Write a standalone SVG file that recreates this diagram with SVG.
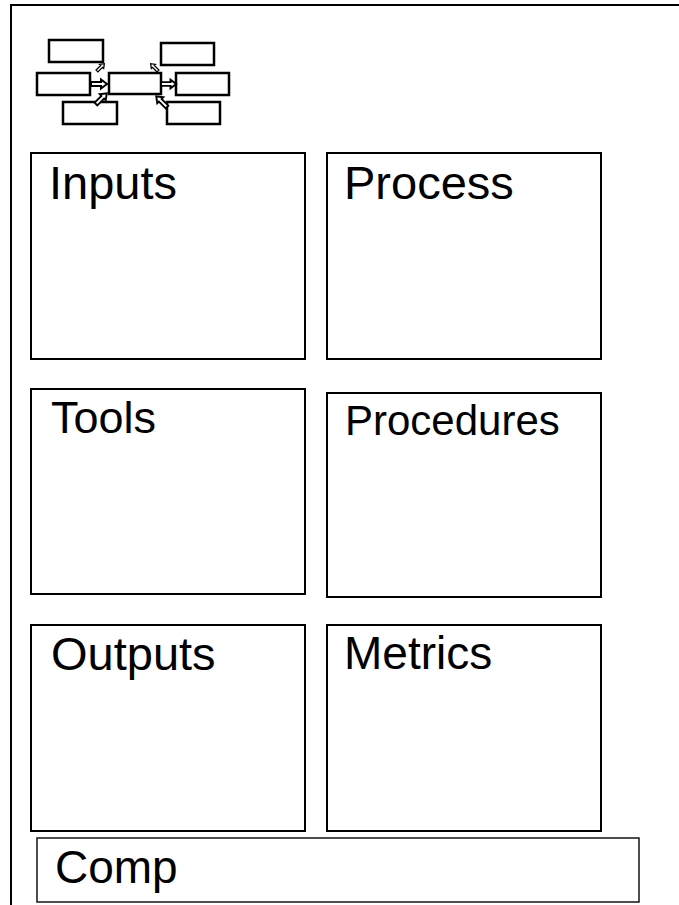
<svg xmlns="http://www.w3.org/2000/svg" width="679" height="905" viewBox="0 0 679 905">
  <style>
    .box { fill: #fff; stroke: #000; stroke-width: 2; }
    .mini { fill: #fff; stroke: #000; stroke-width: 2.5; }
    .arrow { fill: #fff; stroke: #000; stroke-width: 2; stroke-linejoin: miter; }
    .label { font-family: "Liberation Sans", Arial, sans-serif; fill: #000; }
    .frame { fill: none; stroke: #000; stroke-width: 2; }
  </style>
  <defs>
    <!-- hollow block arrow pointing along +x, 16px long -->
    <path id="barrow" d="M0,-2 H10 V-4.5 L16,0 L10,4.5 V2 H0 Z"/>
  </defs>

  <rect width="679" height="905" fill="#fff"/>

  <!-- page frame (top and left edges) -->
  <path class="frame" d="M11,905 V5 H679"/>

  <!-- small process-map icon -->
  <g id="icon">
    <rect class="mini" x="49" y="40" width="54" height="22"/>
    <rect class="mini" x="37" y="73" width="53" height="22"/>
    <rect class="mini" x="63" y="102" width="54" height="22"/>
    <rect class="mini" x="109" y="73" width="52" height="21"/>
    <rect class="mini" x="161" y="43" width="53" height="22"/>
    <rect class="mini" x="176" y="73" width="53" height="22"/>
    <rect class="mini" x="167" y="102" width="53" height="22"/>
    <g class="arrow">
      <use href="#barrow" transform="translate(91,84)"/>
      <use href="#barrow" transform="translate(161,84) scale(0.95)"/>
      <use href="#barrow" transform="translate(96,104) rotate(-45) scale(0.95)"/>
      <use href="#barrow" transform="translate(167,107) rotate(-135) scale(0.95)"/>
      <use href="#barrow" transform="translate(97,71) rotate(-45) scale(0.65)"/>
      <use href="#barrow" transform="translate(158,71) rotate(-135) scale(0.65)"/>
    </g>
  </g>

  <g id="inputs">
    <rect class="box" x="31" y="153" width="274" height="206"/>
    <text class="label" x="49" y="199" font-size="47">Inputs</text>
  </g>
  <g id="process">
    <rect class="box" x="327" y="153" width="274" height="206"/>
    <text class="label" x="344" y="199" font-size="47">Process</text>
  </g>
  <g id="tools">
    <rect class="box" x="31" y="389" width="274" height="205"/>
    <text class="label" x="51" y="433" font-size="45">Tools</text>
  </g>
  <g id="procedures">
    <rect class="box" x="327" y="393" width="274" height="204"/>
    <text class="label" x="345" y="435" font-size="42">Procedures</text>
  </g>
  <g id="outputs">
    <rect class="box" x="31" y="625" width="274" height="206"/>
    <text class="label" x="51" y="670" font-size="47">Outputs</text>
  </g>
  <g id="metrics">
    <rect class="box" x="327" y="625" width="274" height="206"/>
    <text class="label" x="344" y="669" font-size="46">Metrics</text>
  </g>
  <g id="comp">
    <rect class="box" x="37" y="838" width="602" height="64" style="stroke:#222;stroke-width:1.6"/>
    <text class="label" x="55" y="883" font-size="46">Comp</text>
  </g>
</svg>
